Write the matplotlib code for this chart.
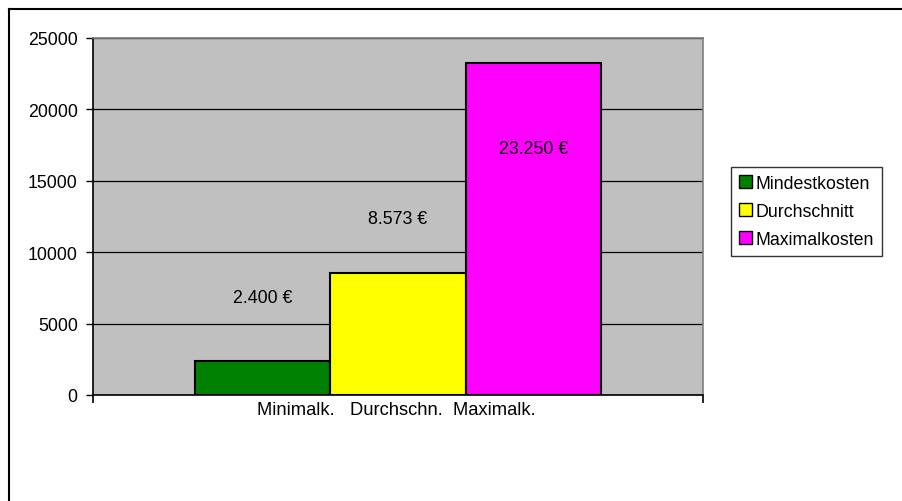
import matplotlib
matplotlib.use("Agg")
import matplotlib.pyplot as plt
from matplotlib.patches import Patch
from matplotlib.lines import Line2D

plt.rcParams['font.family'] = ['Liberation Sans', 'DejaVu Sans']

series = ["Mindestkosten", "Durchschnitt", "Maximalkosten"]
values = [2400, 8573, 23250]
value_labels = ["2.400 €", "8.573 €", "23.250 €"]
label_y = [6860, 12330, 17230]
colors = ["#008000", "#FFFF00", "#FF00FF"]
category_label = "Minimalk.   Durchschn.  Maximalk."
yticks = [0, 5000, 10000, 15000, 20000, 25000]

W, H = 903, 502
fig = plt.figure(figsize=(W / 100, H / 100), dpi=100)
ax = fig.add_axes([93 / W, (H - 396) / H, (703 - 93) / W, (396 - 39) / H])
ax.set_facecolor("#C0C0C0")

offsets = [-1, 0, 1]
for off, v, c in zip(offsets, values, colors):
    ax.bar(off, v, width=1.0, color=c, edgecolor="black", linewidth=1.5, zorder=3)
for off, t, ly in zip(offsets, value_labels, label_y):
    ax.text(off, ly, t, ha="center", va="center", fontsize=12.8, zorder=4)

ax.set_xlim(-2.25, 2.25)
ax.set_ylim(0, 25000)
ax.set_yticks(yticks)
ax.set_yticklabels([str(t) for t in yticks], fontsize=12.8)
ax.yaxis.grid(True, color="black", linewidth=0.9, zorder=1)
ax.set_axisbelow(True)

ax.set_xticks([-2.25, 2.25])
ax.set_xticklabels(["", ""])
ax.tick_params(axis="x", direction="out", length=6, width=1.2, color="black")
ax.tick_params(axis="y", direction="out", length=5, width=1.0, color="black", pad=6)
ax.text(-0.01, -0.018, category_label, transform=ax.get_xaxis_transform(),
        ha="center", va="top", fontsize=13.2)

for s in ["top", "right"]:
    ax.spines[s].set_color("#808080")
    ax.spines[s].set_linewidth(1.2)
for s in ["left", "bottom"]:
    ax.spines[s].set_color("black")
    ax.spines[s].set_linewidth(1.2)

handles = [Patch(facecolor=c, edgecolor="black", linewidth=1.0) for c in colors]
leg = fig.legend(handles, series, loc="upper left",
                 bbox_to_anchor=(731 / W, 1 - 168 / H),
                 fontsize=12.8, frameon=True, fancybox=False,
                 edgecolor="black", handlelength=0.75, handleheight=0.75,
                 handletextpad=0.2, borderpad=0.45, labelspacing=0.62,
                 borderaxespad=0)
leg.get_frame().set_linewidth(1.0)

# chart-area border (top and left visible)
fig.add_artist(Line2D([9.5 / W, 1], [1 - 10 / H, 1 - 10 / H], color="black", linewidth=1.5,
                      transform=fig.transFigure))
fig.add_artist(Line2D([9.5 / W, 9.5 / W], [0, 1 - 10 / H], color="black", linewidth=1.5,
                      transform=fig.transFigure))

fig.savefig("out.png", dpi=100)
